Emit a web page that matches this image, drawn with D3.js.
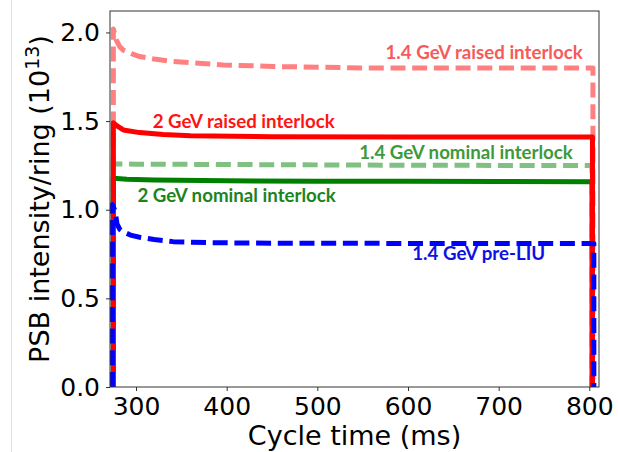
<!DOCTYPE html>
<html>
<head>
<meta charset="utf-8">
<script src="https://cdn.jsdelivr.net/npm/d3@7"></script>
<style>
  body { margin: 0; background: #fff; }
  svg { display: block; font-family: "DejaVu Sans", sans-serif; }
</style>
</head>
<body>
<div id="wrapper"></div>
<script>
// series data (cycle time in ms, intensity in 1e13 per ring)
const raised14Time = [275, 275, 278, 282, 286, 295, 304, 320, 341, 396, 451, 550, 700, 804, 804]
const raised14Val = [0, 2.02, 1.96, 1.92, 1.90, 1.88, 1.864, 1.85, 1.836, 1.817, 1.808, 1.80, 1.80, 1.80, 0]

const nominal14Time = [275, 275, 300, 400, 500, 600, 700, 803, 803]
const nominal14Val = [0, 1.258, 1.257, 1.255, 1.253, 1.251, 1.25, 1.249, 0]

const nominal2Time = [275, 275, 290, 320, 400, 500, 600, 700, 803, 803]
const nominal2Val = [0, 1.177, 1.172, 1.168, 1.163, 1.161, 1.16, 1.159, 1.158, 0]

const raised2Time = [275, 275, 280, 286, 304, 330, 360, 450, 600, 803.5, 803.5]
const raised2Val = [0, 1.49, 1.47, 1.45, 1.435, 1.425, 1.417, 1.412, 1.41, 1.41, 0]

const preLiuTime = [274, 274, 277, 279, 282, 286, 295, 304, 320, 341, 380, 450, 600, 805, 805]
const preLiuVal = [0, 1.03, 0.99, 0.92, 0.89, 0.875, 0.855, 0.845, 0.832, 0.82, 0.814, 0.811, 0.81, 0.81, 0]

const xTicks = [300, 400, 500, 600, 700, 800]
const yTicks = [0, 0.5, 1.0, 1.5, 2.0]

const labels = [
  { text: "1.4 GeV raised interlock", t: 684, v: 1.853, color: "#f65a5a" },
  { text: "2 GeV raised interlock", t: 418.8, v: 1.463, color: "#ff1414" },
  { text: "1.4 GeV nominal interlock", t: 664, v: 1.286, color: "#3c9a3c" },
  { text: "2 GeV nominal interlock", t: 411, v: 1.046, color: "#1c841c" },
  { text: "1.4 GeV pre-LIU", t: 678, v: 0.716, color: "#1010e6" },
]

function drawChart() {
  const dimensions = {
    width: 618,
    height: 452,
    margin: { top: 11, right: 19, bottom: 65, left: 110 },
  }
  dimensions.boundedWidth = dimensions.width - dimensions.margin.left - dimensions.margin.right
  dimensions.boundedHeight = dimensions.height - dimensions.margin.top - dimensions.margin.bottom

  const wrapper = d3.select("#wrapper")
    .append("svg")
    .attr("width", dimensions.width)
    .attr("height", dimensions.height)

  // faint page edge on the left of the screenshot
  wrapper.append("line")
    .attr("x1", 11.5).attr("x2", 11.5)
    .attr("y1", 0).attr("y2", dimensions.height)
    .attr("stroke", "#e2e2e2")

  const bounds = wrapper.append("g")
    .attr("transform", `translate(${dimensions.margin.left},${dimensions.margin.top})`)

  const xScale = d3.scaleLinear()
    .domain([271.3, 810.7])
    .range([0, dimensions.boundedWidth])

  const yScale = d3.scaleLinear()
    .domain([0, 2.121])
    .range([dimensions.boundedHeight, 0])

  const lineGen = d3.line()
    .x(d => xScale(d[0]))
    .y(d => yScale(d[1]))

  const series = [
    { time: raised14Time, val: raised14Val, color: "#ff8080", width: 5, dash: "15,6.7" },
    { time: nominal14Time, val: nominal14Val, color: "#80c080", width: 5, dash: "15,6.7" },
    { time: nominal2Time, val: nominal2Val, color: "#008000", width: 5, dash: null },
    { time: raised2Time, val: raised2Val, color: "#ff0000", width: 5, dash: null },
    { time: preLiuTime, val: preLiuVal, color: "#0000ff", width: 5, dash: "15,6.7" },
  ]

  bounds.selectAll(".series")
    .data(series)
    .join("path")
    .attr("class", "series")
    .attr("d", d => lineGen(d3.zip(d.time, d.val)))
    .attr("fill", "none")
    .attr("stroke", d => d.color)
    .attr("stroke-width", d => d.width)
    .attr("stroke-dasharray", d => d.dash)
    .attr("stroke-linejoin", "round")

  // axes
  const xAxis = bounds.append("g")
    .attr("transform", `translate(0,${dimensions.boundedHeight})`)
    .call(d3.axisBottom(xScale).tickValues(xTicks).tickSize(4).tickSizeOuter(0).tickPadding(6))
  const yAxis = bounds.append("g")
    .call(d3.axisLeft(yScale).tickValues(yTicks).tickFormat(d3.format(".1f")).tickSize(4).tickSizeOuter(0).tickPadding(6))

  for (const ax of [xAxis, yAxis]) {
    ax.select(".domain").remove()
    ax.selectAll("line").attr("stroke", "#333")
    ax.selectAll("text")
      .attr("fill", "#000")
      .style("font-size", "25px")
      .style("font-family", "DejaVu Sans")
  }

  // frame
  bounds.append("rect")
    .attr("x", 0).attr("y", 0)
    .attr("width", dimensions.boundedWidth)
    .attr("height", dimensions.boundedHeight)
    .attr("fill", "none")
    .attr("stroke", "#333")
    .attr("stroke-width", 1)

  // axis labels
  wrapper.append("text")
    .attr("x", dimensions.margin.left + dimensions.boundedWidth / 2)
    .attr("y", 445)
    .attr("text-anchor", "middle")
    .style("font-size", "27px")
    .text("Cycle time (ms)")

  const yLabel = wrapper.append("text")
    .attr("transform", `translate(48.5,${dimensions.margin.top + dimensions.boundedHeight / 2}) rotate(-90)`)
    .attr("text-anchor", "middle")
    .style("font-size", "27px")
  yLabel.append("tspan").text("PSB intensity/ring (10")
  yLabel.append("tspan").attr("dy", -10).style("font-size", "19px").text("13")
  yLabel.append("tspan").attr("dy", 10).text(")")

  // annotations
  bounds.selectAll(".note")
    .data(labels)
    .join("text")
    .attr("class", "note")
    .attr("x", d => xScale(d.t))
    .attr("y", d => yScale(d.v))
    .attr("text-anchor", "middle")
    .attr("fill", d => d.color)
    .style("font-family", "Lato, 'Open Sans', sans-serif")
    .style("font-weight", "bold")
    .style("font-size", "18.7px")
    .text(d => d.text)
}
drawChart()
</script>
</body>
</html>
